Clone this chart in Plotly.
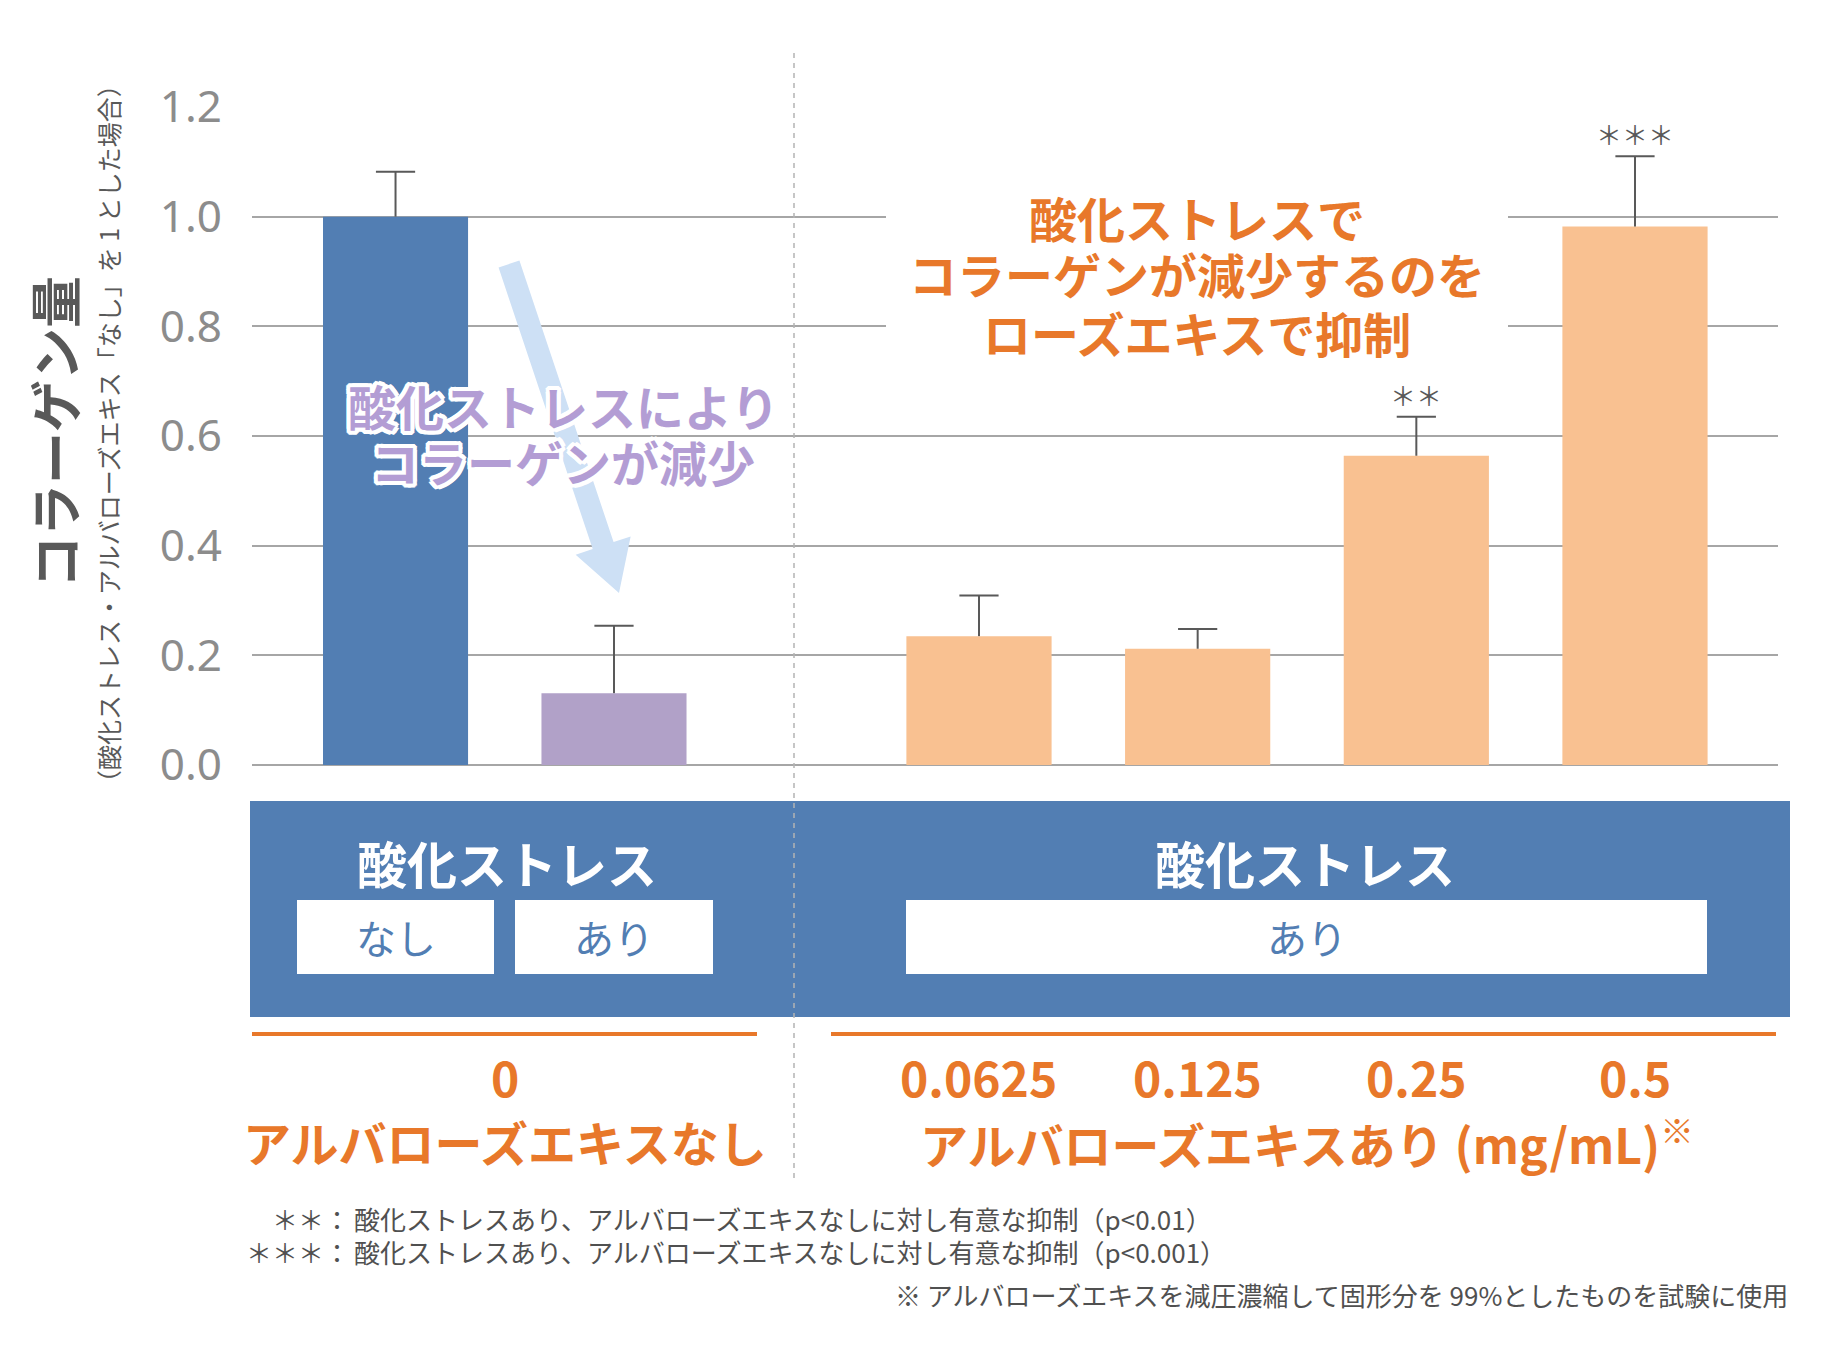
import math
import plotly.graph_objects as go

# ---------------- data ----------------
stress_labels = ["なし", "あり"]
ctrl_values = [1.0, 0.131]
ctrl_errors = [0.082, 0.123]

doses = ["0.0625", "0.125", "0.25", "0.5"]
dose_values = [0.235, 0.212, 0.564, 0.982]
dose_errors = [0.074, 0.036, 0.071, 0.128]
dose_marks = ["", "", "＊＊", "＊＊＊"]

y_ticks = [0.0, 0.2, 0.4, 0.6, 0.8, 1.0, 1.2]

# ---------------- style ----------------
JP = "Noto Sans CJK JP"
BLUE = "#527EB3"
PURPLE_BAR = "#B1A1C8"
ORANGE_BAR = "#F9C191"
ORANGE = "#E8782A"
PURPLE_TXT = "#B39DD4"
ARROW = "#CDE0F5"
GRID = "#A6A6A6"
DARK = "#595959"

W, H = 1840, 1352
OFF = 8  # page body margin compensation
PL, PR, PT, PB = 252, 1778, 107, 765


def px(x):
    return (x - PL) / (PR - PL)


def py(y):
    return (PB - y) / (PB - PT)


fig = go.Figure()

err_common = dict(type="data", symmetric=False, width=0, thickness=2, color=DARK)

fig.add_trace(go.Bar(
    x=stress_labels, y=ctrl_values, width=0.664,
    marker=dict(color=[BLUE, PURPLE_BAR], line=dict(width=0)),
    error_y=dict(array=ctrl_errors, arrayminus=[0] * len(ctrl_values), **err_common),
    xaxis="x", yaxis="y", showlegend=False, hoverinfo="skip",
))
fig.add_trace(go.Bar(
    x=doses, y=dose_values, width=0.664,
    marker=dict(color=ORANGE_BAR, line=dict(width=0)),
    error_y=dict(array=dose_errors, arrayminus=[0] * len(dose_values), **err_common),
    xaxis="x2", yaxis="y", showlegend=False, hoverinfo="skip",
))
# error bar caps (top only)
fig.add_trace(go.Scatter(
    x=stress_labels, y=[v + e for v, e in zip(ctrl_values, ctrl_errors)],
    mode="markers", marker=dict(symbol="line-ew", size=28, line=dict(width=2, color=DARK)),
    xaxis="x", yaxis="y", showlegend=False, hoverinfo="skip", cliponaxis=False,
))
fig.add_trace(go.Scatter(
    x=doses, y=[v + e for v, e in zip(dose_values, dose_errors)],
    mode="markers", marker=dict(symbol="line-ew", size=28, line=dict(width=2, color=DARK)),
    xaxis="x2", yaxis="y", showlegend=False, hoverinfo="skip", cliponaxis=False,
))

split = px(794)


# decorative block arrow (pixel geometry -> paper path)
def arrow_path(tail, tip, half_shaft, half_head, head_len):
    dx, dy = tip[0] - tail[0], tip[1] - tail[1]
    L = math.hypot(dx, dy)
    ux, uy = dx / L, dy / L
    nx, ny = -uy, ux
    neck = (tip[0] - head_len * ux, tip[1] - head_len * uy)
    pts = [
        (tail[0] + half_shaft * nx, tail[1] + half_shaft * ny),
        (neck[0] + half_shaft * nx, neck[1] + half_shaft * ny),
        (neck[0] + half_head * nx, neck[1] + half_head * ny),
        tip,
        (neck[0] - half_head * nx, neck[1] - half_head * ny),
        (neck[0] - half_shaft * nx, neck[1] - half_shaft * ny),
        (tail[0] - half_shaft * nx, tail[1] - half_shaft * ny),
    ]
    return "M " + " L ".join(f"{px(a):.5f},{py(b):.5f}" for a, b in pts) + " Z"


shapes = [
    # white background behind orange message (breaks gridlines)
    dict(type="rect", xref="paper", yref="paper", x0=px(886), x1=px(1508), y0=py(365), y1=py(190),
         fillcolor="white", line=dict(width=0), layer="above"),
    # light blue arrow
    dict(type="path", xref="paper", yref="paper", path=arrow_path((509, 264), (619, 593), 11, 29, 50),
         fillcolor=ARROW, line=dict(width=0), layer="above"),
    # blue condition band
    dict(type="rect", xref="paper", yref="paper", x0=px(250), x1=px(1790), y0=py(1017), y1=py(801),
         fillcolor=BLUE, line=dict(width=0), layer="above"),
    dict(type="rect", xref="paper", yref="paper", x0=px(297), x1=px(494), y0=py(974), y1=py(900),
         fillcolor="white", line=dict(width=0), layer="above"),
    dict(type="rect", xref="paper", yref="paper", x0=px(515), x1=px(713), y0=py(974), y1=py(900),
         fillcolor="white", line=dict(width=0), layer="above"),
    dict(type="rect", xref="paper", yref="paper", x0=px(906), x1=px(1707), y0=py(974), y1=py(900),
         fillcolor="white", line=dict(width=0), layer="above"),
    # dashed separator
    dict(type="line", xref="paper", yref="paper", x0=split, x1=split, y0=py(53), y1=py(1179),
         line=dict(color="#B4B4B4", width=1.5, dash="5px,5px"), layer="above"),
    # orange rules
    dict(type="line", xref="paper", yref="paper", x0=px(252), x1=px(757), y0=py(1034), y1=py(1034),
         line=dict(color=ORANGE, width=4), layer="above"),
    dict(type="line", xref="paper", yref="paper", x0=px(831), x1=px(1776), y0=py(1034), y1=py(1034),
         line=dict(color=ORANGE, width=4), layer="above"),
]

outline = ", ".join(f"{dx}px {dy}px 0 #fff" for dx, dy in
                    [(-3, -3), (3, -3), (-3, 3), (3, 3), (0, 3), (0, -3), (3, 0), (-3, 0),
                     (-2, -4), (2, -4), (-2, 4), (2, 4), (-4, -2), (4, -2), (-4, 2), (4, 2)])


def note(text, x, y, size, color, weight=400, xref="paper", yref="paper", xanchor="center",
         yanchor="middle", **kw):
    return dict(xref=xref, yref=yref, x=x, y=y, text=text, showarrow=False, xanchor=xanchor,
                yanchor=yanchor, font=dict(family=JP, size=size, color=color, weight=weight,
                                           **kw.pop("font_extra", {})), **kw)


ann = []
# purple message
for txt, yy in [("酸化ストレスにより", 405), ("コラーゲンが減少", 461)]:
    ann.append(note(txt, px(563), py(yy), 48, PURPLE_TXT, 700, font_extra=dict(shadow=outline)))
# orange message
for txt, yy in [("酸化ストレスで", 217), ("コラーゲンが減少するのを", 273), ("ローズエキスで抑制", 332)]:
    ann.append(note(txt, px(1197), py(yy), 48, ORANGE, 700))
# significance marks
for i, (v, e, m) in enumerate(zip(dose_values, dose_errors, dose_marks)):
    if m:
        ann.append(note(m, i, v + e, 26, DARK, xref="x2", yref="y", yanchor="bottom", yshift=2))
# y-axis titles
ann.append(note("コラーゲン量", px(53), py(432), 52, DARK, 700, textangle=-90))
ann.append(note("（酸化ストレス・アルバローズエキス「なし」を 1 とした場合）", px(108), py(434), 25, DARK,
                textangle=-90))
# condition band texts
for xx in (507, 1305):
    ann.append(note("酸化ストレス", px(xx), py(862), 50, "white", 700))
for i, s in enumerate(stress_labels):
    ann.append(note(s, i, py(937), 40, BLUE, xref="x"))
ann.append(note("あり", (len(doses) - 1) / 2, py(937), 40, BLUE, xref="x2"))
# dose labels
ann.append(note("0", (len(stress_labels) - 1) / 2, py(1076), 48, ORANGE, 700, xref="x"))
for i, d in enumerate(doses):
    ann.append(note(d, i, py(1076), 48, ORANGE, 700, xref="x2"))
ann.append(note("アルバローズエキスなし", (len(stress_labels) - 1) / 2, py(1141), 48, ORANGE, 700, xref="x"))
ann.append(note("アルバローズエキスあり (mg/mL)<sup>※</sup>", (len(doses) - 1) / 2, py(1141), 48, ORANGE, 700,
                xref="x2"))
# footnotes
FN = "#505050"
for stars, body, yy in [("＊＊：", "酸化ストレスあり、アルバローズエキスなしに対し有意な抑制（p<0.01）", 1218),
                        ("＊＊＊：", "酸化ストレスあり、アルバローズエキスなしに対し有意な抑制（p<0.001）", 1251)]:
    ann.append(note(stars, px(352), py(yy), 26, FN, xanchor="right"))
    ann.append(note(body, px(352), py(yy), 26, FN, xanchor="left"))
ann.append(note("※ アルバローズエキスを減圧濃縮して固形分を 99%としたものを試験に使用", px(1790), py(1294), 26, FN,
                xanchor="right"))

fig.update_layout(
    width=W, height=H,
    margin=dict(l=PL - OFF, r=W - PR + OFF, t=PT - OFF, b=H - PB + OFF, pad=0),
    paper_bgcolor="white", plot_bgcolor="white",
    showlegend=False,
    xaxis=dict(domain=[0, split], type="category", range=[-0.657, 1.824], visible=False, anchor="y"),
    xaxis2=dict(domain=[split, 1], type="category", range=[-0.846, 3.654], visible=False, anchor="y"),
    yaxis=dict(range=[0, 1.2], tickvals=y_ticks, ticktext=[f"{t:.1f}" for t in y_ticks],
               showgrid=True, gridcolor=GRID, gridwidth=1.5, zeroline=True, zerolinecolor=GRID,
               zerolinewidth=1.5, showline=False, ticks="", ticklabelstandoff=29,
               tickfont=dict(family="Noto Sans", size=44, color="#8C8C8C")),
    shapes=shapes,
    annotations=ann,
)

fig.write_html("out.html")
